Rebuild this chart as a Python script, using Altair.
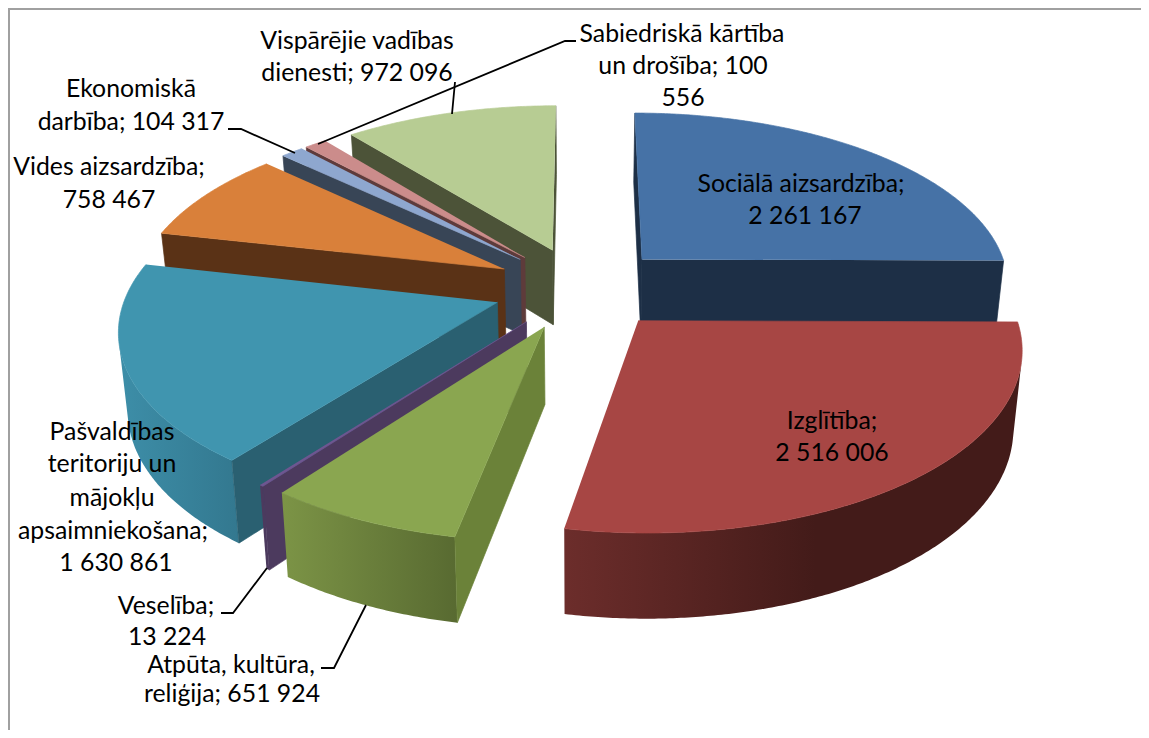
import math
import altair as alt
import pandas as pd

# ---- data (clockwise from the top of the pie)
names = ["Sociālā aizsardzība", "Izglītība", "Atpūta, kultūra, reliģija", "Veselība",
         "Pašvaldības teritoriju un mājokļu apsaimniekošana", "Vides aizsardzība",
         "Ekonomiskā darbība", "Sabiedriskā kārtība un drošība", "Vispārējie vadības dienesti"]
values = [2261167, 2516006, 651924, 13224, 1630861, 758467, 104317, 100556, 972096]
top_colors = ["#4672A6", "#A74644", "#8AA650", "#6F5691", "#4095AF", "#D9803A", "#8EA7CF", "#CB8C8B", "#B7CC93"]
face_colors = ["#1D2F46", "#431C1A", "#6B8239", "#4C3A5E", "#2A6071", "#5A3216", "#384556", "#5E3B3B", "#4C5338"]
wall_left = ["#1D2F46", "#6C2D2B", "#7C9446", "#4C3A5E", "#3D8EA8", "#5A3216", "#384556", "#5E3B3B", "#4C5338"]
wall_right = ["#1D2F46", "#431B19", "#586A31", "#4C3A5E", "#33788F", "#5A3216", "#384556", "#5E3B3B", "#4C5338"]
wall_knee = [1, 0.55, 1, 1, 1, 1, 1, 1, 1]

label_lines = [
    ("Sociālā aizsardzība;", 801, 183), ("2 261 167", 805, 215),
    ("Izglītība;", 832, 420), ("2 516 006", 832, 452),
    ("Sabiedriskā kārtība", 682, 33), ("un drošība; 100", 683, 65), ("556", 683, 97),
    ("Vispārējie vadības", 357, 40), ("dienesti; 972 096", 357, 72),
    ("Ekonomiskā", 131, 88), ("darbība; 104 317", 131, 121),
    ("Vides aizsardzība;", 109, 166), ("758 467", 109, 199),
    ("Pašvaldības", 112, 431), ("teritoriju un", 112, 463), ("mājokļu", 112, 497),
    ("apsaimniekošana;", 113, 530), ("1 630 861", 116, 562),
    ("Veselība;", 166, 605), ("13 224", 167, 636),
    ("Atpūta, kultūra,", 231, 664), ("reliģija; 651 924", 232, 693),
]
leaders = [
    [(228, 129), (241, 129), (295, 153)],
    [(576, 41), (565, 41), (318, 144)],
    [(455, 82), (452, 114)],
    [(221, 613), (233, 613), (267, 568)],
    [(321, 668), (334, 668), (366, 605)],
]
frame = [(9, 730), (9, 9), (1141, 9)]

# ---- view of the exploded 3D pie
CX, CY, RX, RY, EXPLODE, PERSP, DEPTH, SHRINK = 581, 288, 369.5, 173.6, 0.238, 0.136, 76, 0.98
PAINT_ORDER = [8, 7, 6, 5, 0, 4, 3, 2, 1]
W, H, M = 1133, 722, 8

xs = alt.Scale(domain=[M, M + W], range=[0, W], nice=False, zero=False)
ys = alt.Scale(domain=[M, M + H], range=[0, H], nice=False, zero=False)
X = alt.X("x:Q", scale=xs, axis=None)
Y = alt.Y("y:Q", scale=ys, axis=None)


def project(x, y, bottom=False):
    p = 1 / (1 + PERSP * y)
    q = SHRINK if bottom else 1
    return (CX + RX * x * p * q, CY - RY * y * p * q + (DEPTH * p if bottom else 0))


def area(pts):
    return sum(pts[i][0] * pts[(i + 1) % len(pts)][1] - pts[(i + 1) % len(pts)][0] * pts[i][1]
               for i in range(len(pts)))


def frame_of(pts):
    return pd.DataFrame([{"x": x, "y": y, "i": i} for i, (x, y) in enumerate(pts)])


def polygon(pts, fill, edge=False):
    style = dict(filled=True, fill=fill, clip=False, interpolate="linear")
    if edge:
        style.update(stroke=fill, strokeWidth=0.7)
    return alt.Chart(frame_of(pts)).mark_line(**style).encode(x=X, y=Y, order="i:Q")


total = sum(values)
spans, a = [], 0.0
for v in values:
    spans.append((a, a + 360 * v / total))
    a += 360 * v / total

layers = [alt.Chart(frame_of(frame)).mark_line(color="#A0A0A0", strokeWidth=2).encode(x=X, y=Y, order="i:Q")]

for k in PAINT_ORDER:
    a0, a1 = spans[k]
    mid = math.radians((a0 + a1) / 2)
    ex, ey = EXPLODE * math.sin(mid), EXPLODE * math.cos(mid)
    n = max(2, int((a1 - a0) / 0.5) + 1)
    angs = [math.radians(a0 + (a1 - a0) * j / (n - 1)) for j in range(n)]
    rim = [(ex + math.sin(t), ey + math.cos(t)) for t in angs]
    top = [project(*r) for r in rim]
    bot = [project(*r, bottom=True) for r in rim]
    apex_t, apex_b = project(ex, ey), project(ex, ey, bottom=True)

    # outer wall: the facing part of the rim, shaded across its width
    keep = [j for j in range(n - 1) if area([top[j + 1], bot[j + 1], bot[j], top[j]]) < 0]
    if keep:
        lo, hi = keep[0], keep[-1] + 1
        outline = top[lo:hi + 1] + bot[lo:hi + 1][::-1]
        gradient = alt.Gradient(
            gradient="linear", x1=0, x2=1, y1=0, y2=0,
            stops=[alt.GradientStop(offset=0, color=wall_left[k]),
                   alt.GradientStop(offset=wall_knee[k], color=wall_right[k]),
                   alt.GradientStop(offset=1, color=wall_right[k])],
        )
        layers.append(polygon(outline, gradient))
    for face in ([top[0], bot[0], apex_b, apex_t], [apex_t, apex_b, bot[-1], top[-1]]):
        if area(face) < 0:
            layers.append(polygon(face, face_colors[k], edge=True))
    layers.append(polygon([apex_t] + top, top_colors[k], edge=True))

lead_rows = [{"x": x, "y": y, "id": n, "i": i} for n, l in enumerate(leaders) for i, (x, y) in enumerate(l)]
layers.append(alt.Chart(pd.DataFrame(lead_rows)).mark_line(color="#000000", strokeWidth=1.8).encode(
    x=X, y=Y, detail="id:N", order="i:Q"))

lab_df = pd.DataFrame(label_lines, columns=["t", "x", "y"])
layers.append(alt.Chart(lab_df).mark_text(font="Lato", fontSize=24.8, color="#000000", align="center",
                                          baseline="middle", dy=2).encode(x=X, y=Y, text="t:N"))

chart = alt.layer(*layers).properties(
    width=W, height=H, padding=0, background="#FFFFFF",
    autosize=alt.AutoSizeParams(type="none"),
).configure_view(stroke=None)

chart.save("out.html", embed_options={"renderer": "svg", "actions": False})
